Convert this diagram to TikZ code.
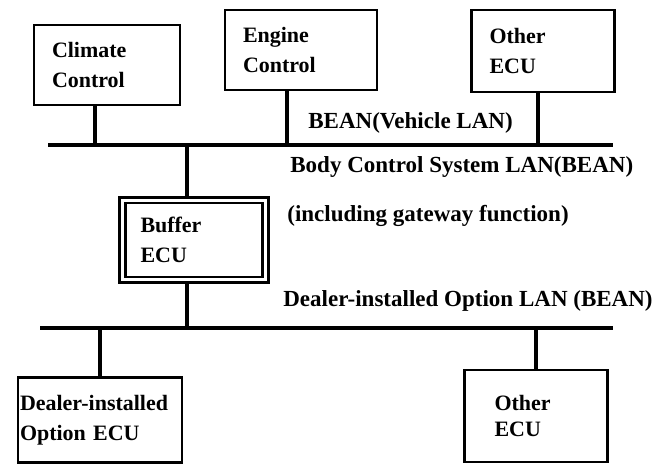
\documentclass[tikz,border=0pt]{standalone}
\usepackage{fontspec}
\setmainfont{Liberation Serif}
\begin{document}
\begin{tikzpicture}[x=0.02cm,y=-0.02cm,
    ecu/.style={draw, line width=1.5pt, align=left, inner xsep=0.36cm,
                font=\fontsize{12.5}{17}\selectfont\bfseries},
    lan/.style={line width=2.6pt},
    stub/.style={line width=2pt},
    lanlabel/.style={anchor=west, inner sep=0pt,
                font=\fontsize{13.1}{16}\selectfont\bfseries}]
    \useasboundingbox (0,0) rectangle (656,474);

    % ECUs on the body LAN
    \node[ecu, minimum width=2.92cm, minimum height=1.6cm, text width=2.2cm] (clim) at (107,65) {Climate\\Control};
    \node[ecu, minimum width=3.04cm, minimum height=1.6cm, text width=2.32cm] (eng) at (301,50) {Engine\\Control};
    \node[ecu, minimum width=2.86cm, minimum height=1.64cm, text width=2.14cm] (oth1) at (543,51) {Other\\ECU};

    % gateway
    \node[ecu, double, double distance=1.6pt, line width=1.5pt,
          minimum width=2.86cm, minimum height=1.59cm, text width=2.14cm] (buf) at (194,240) {Buffer\\ECU};

    % ECUs on the option LAN
    \node[ecu, inner xsep=1pt, minimum width=3.28cm, minimum height=1.7cm, text width=3.2cm] (dlr) at (100,420) {Dealer-installed\\Option ECU};
    \node[ecu, inner xsep=0.6cm, minimum width=2.86cm, minimum height=1.84cm, text width=1.66cm,
          font=\fontsize{12.5}{14.5}\selectfont\bfseries] (oth2) at (536,416) {Other\\ECU};

    % bus lines
    \coordinate (bodyL) at (48,145);
    \coordinate (bodyR) at (613,145);
    \coordinate (optL)  at (40,328);
    \coordinate (optR)  at (613,328);
    \draw[lan] (bodyL) -- (bodyR);
    \draw[lan] (optL) -- (optR);

    % stubs
    \draw[stub] ([xshift=-0.24cm]clim.south) -- ([xshift=-0.24cm]clim.south |- bodyL);
    \draw[stub] ([xshift=-0.28cm]eng.south) -- ([xshift=-0.28cm]eng.south |- bodyL);
    \draw[stub] ([xshift=-0.1cm]oth1.south) -- ([xshift=-0.1cm]oth1.south |- bodyL);
    \draw[stub] ([xshift=-0.14cm]buf.north) -- ([xshift=-0.14cm]buf.north |- bodyL);
    \draw[stub] ([xshift=-0.14cm]buf.south) -- ([xshift=-0.14cm]buf.south |- optL);
    \draw[stub] (dlr.north) -- (dlr.north |- optL);
    \draw[stub] (oth2.north) -- (oth2.north |- optL);

    % labels
    \node[lanlabel] (vehlan)  at (308,123) {BEAN(Vehicle LAN)};
    \node[lanlabel] (bodylan) at (290,167) {Body Control System LAN(BEAN)};
    \node[lanlabel] (gwfunc)  at (287,216) {(including gateway function)};
    \node[lanlabel] (optlan)  at (283,301) {Dealer-installed Option LAN (BEAN)};
\end{tikzpicture}
\end{document}
